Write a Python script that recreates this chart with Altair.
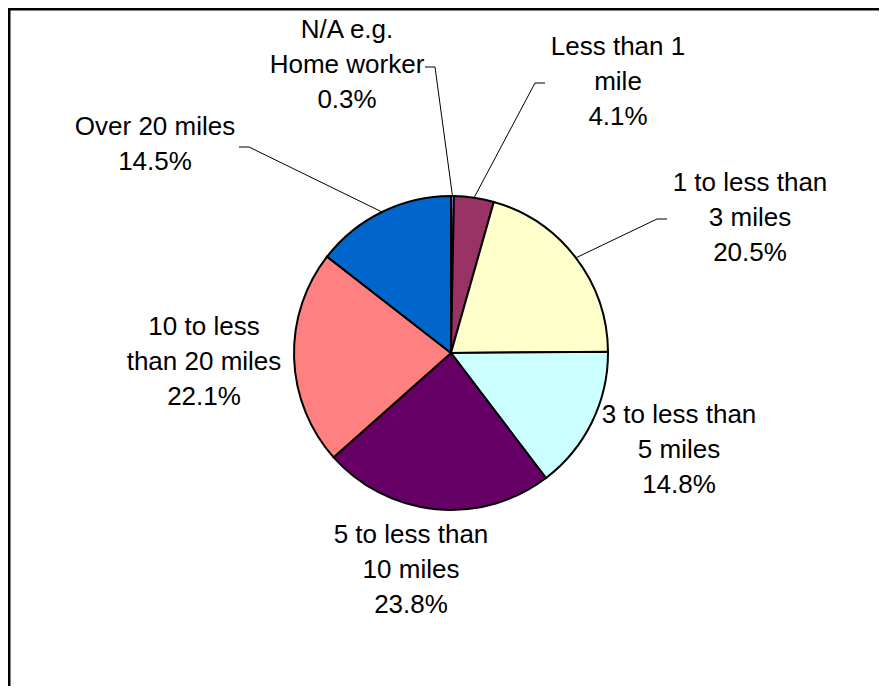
import math
import altair as alt
import pandas as pd

# ---- data ----
categories = [
    "N/A e.g. Home worker",
    "Less than 1 mile",
    "1 to less than 3 miles",
    "3 to less than 5 miles",
    "5 to less than 10 miles",
    "10 to less than 20 miles",
    "Over 20 miles",
]
values = [0.3, 4.1, 20.5, 14.8, 23.8, 22.1, 14.5]
label_texts = [
    "N/A e.g.\nHome worker\n0.3%",
    "Less than 1\nmile\n4.1%",
    "1 to less than\n3 miles\n20.5%",
    "3 to less than\n5 miles\n14.8%",
    "5 to less than\n10 miles\n23.8%",
    "10 to less\nthan 20 miles\n22.1%",
    "Over 20 miles\n14.5%",
]
colors = ["#9999FF", "#993366", "#FFFFCC", "#CCFFFF", "#660066", "#FF8080", "#0066CC"]

# ---- layout (page pixels) ----
OFF = 8
W, H = 871, 678
CX, CY, R = 451 - OFF, 353 - OFF, 157
label_cx = [347, 618, 750, 679, 411, 204, 155]
label_y0 = [30, 47, 183, 415, 535, 327, 127]
LINE_H = 35
# leader lines: (dash start, elbow) for labels that have one
leaders = {
    0: ((425, 67), (435, 67)),
    1: ((545, 83), (535, 83)),
    2: ((667, 219), (657, 219)),
    6: ((239, 147), (249, 147)),
}

pie_df = pd.DataFrame({"cat": categories, "value": values, "idx": list(range(len(values)))})

# text rows
rows = []
for i, t in enumerate(label_texts):
    for j, line in enumerate(t.split("\n")):
        rows.append({"x": label_cx[i] - OFF, "y": label_y0[i] + j * LINE_H - OFF, "t": line})
text_df = pd.DataFrame(rows)

# leader rows
total = sum(values)
cum = 0
mids = []
for v in values:
    mids.append((cum + v / 2) / total * 2 * math.pi)
    cum += v
lrows = []
for i, (p0, p1) in leaders.items():
    a = mids[i]
    ex, ey = CX + R * math.sin(a), CY - R * math.cos(a)
    pts = [(p0[0] - OFF, p0[1] - OFF), (p1[0] - OFF, p1[1] - OFF), (ex, ey)]
    for k, (px, py) in enumerate(pts):
        lrows.append({"lab": str(i), "k": k, "x": px, "y": py})
lead_df = pd.DataFrame(lrows)

one = pd.DataFrame({"a": [0]})

border_top = alt.Chart(one).mark_rule(color="black", strokeWidth=2.5).encode(
    x=alt.value(0), x2=alt.value(W + 10), y=alt.value(1.25)
)
border_left = alt.Chart(one).mark_rule(color="black", strokeWidth=2.5).encode(
    x=alt.value(1.25), y=alt.value(0), y2=alt.value(H + 10)
)

pie = alt.Chart(pie_df).mark_arc(stroke="black", strokeWidth=2, outerRadius=R).encode(
    theta=alt.Theta("value:Q", stack=True),
    color=alt.Color("cat:N", scale=alt.Scale(domain=categories, range=colors), legend=None),
    order=alt.Order("idx:Q"),
    x=alt.value(CX),
    y=alt.value(CY),
)

lines = alt.Chart(lead_df).mark_line(color="black", strokeWidth=1).encode(
    x=alt.X("x:Q", scale=None),
    y=alt.Y("y:Q", scale=None),
    detail="lab:N",
    order="k:Q",
)

texts = alt.Chart(text_df).mark_text(
    font="Liberation Sans", fontSize=26, align="center", baseline="middle", color="black"
).encode(
    x=alt.X("x:Q", scale=None),
    y=alt.Y("y:Q", scale=None),
    text="t:N",
)

chart = alt.layer(border_top, border_left, pie, lines, texts).properties(
    width=W, height=H, autosize=alt.AutoSizeParams(type="none"), padding=0
).configure_view(stroke=None).configure(background="white")

chart.save("out.html", embed_options={"renderer": "svg", "actions": False})
